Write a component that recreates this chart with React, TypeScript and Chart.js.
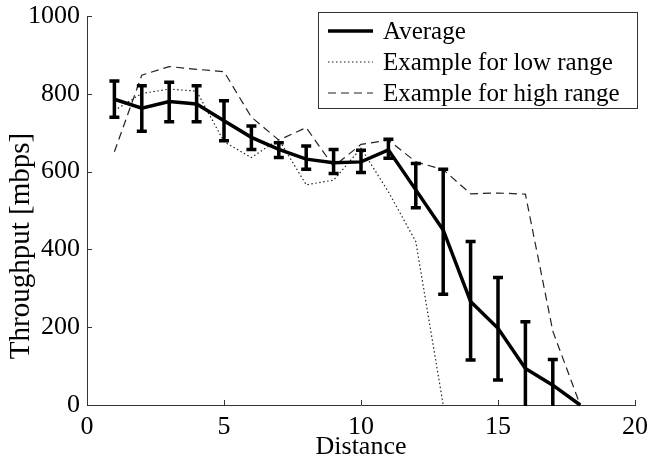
import React, { useEffect, useRef } from "react";
import { Chart, registerables } from "chart.js";

Chart.register(...registerables);

// ---- data ----
const distance = [1, 2, 3, 4, 5, 6, 7, 8, 9, 10, 11, 12, 13, 14, 15, 16, 17, 18];
const averageThroughput = [786, 763, 780, 774, 731, 688, 657, 632, 623, 625, 656, 553, 450, 266, 197, 94, 51, 0];
const errorHigh = [833, 821, 830, 821, 782, 717, 674, 666, 657, 655, 683, 621, 606, 420, 328, 214, 117, null];
const errorLow = [740, 704, 728, 728, 679, 657, 636, 606, 595, 598, 634, 507, 285, 116, 64, -26, -15, null];
const lowRangeDistance = [1, 2, 3, 4, 5, 6, 7, 8, 9, 10, 11, 12, 13];
const lowRangeThroughput = [757, 801, 812, 807, 677, 636, 683, 566, 578, 660, 548, 420, 0];
const highRangeThroughput = [651, 848, 870, 863, 857, 740, 681, 713, 613, 670, 681, 625, 605, 543, 545, 542, 190, 0];
const seriesLabels = ["Average", "Example for low range", "Example for high range"];
const xTicks = [0, 5, 10, 15, 20];
const yTicks = [0, 200, 400, 600, 800, 1000];
const xTitle = "Distance";
const yTitle = "Throughput [mbps]";

const FONT = "'Liberation Serif', 'Times New Roman', serif";
const AXIS_COLOR = "#333";

const toPoints = (xs: number[], ys: (number | null)[]) => xs.map((x, i) => ({ x, y: ys[i] as number }));

const inwardTicks = {
  id: "inwardTicks",
  afterDraw(chart: any) {
    const { ctx, chartArea } = chart;
    const xs = chart.scales.x;
    const ys = chart.scales.y;
    ctx.save();
    ctx.strokeStyle = AXIS_COLOR;
    ctx.lineWidth = 1;
    xs.ticks.forEach((t: any) => {
      const px = Math.round(xs.getPixelForValue(t.value)) + 0.5;
      ctx.beginPath();
      ctx.moveTo(px, chartArea.bottom);
      ctx.lineTo(px, chartArea.bottom - 5);
      ctx.stroke();
    });
    ys.ticks.forEach((t: any) => {
      const py = Math.round(ys.getPixelForValue(t.value)) + 0.5;
      ctx.beginPath();
      ctx.moveTo(chartArea.left, py);
      ctx.lineTo(chartArea.left + 5, py);
      ctx.stroke();
    });
    ctx.restore();
  },
};

const yAxisTitle = {
  id: "yAxisTitle",
  afterDraw(chart: any) {
    const { ctx } = chart;
    ctx.save();
    ctx.translate(21, 246);
    ctx.rotate(-Math.PI / 2);
    ctx.font = `29px ${FONT}`;
    ctx.fillStyle = "#000";
    ctx.textAlign = "center";
    ctx.textBaseline = "middle";
    ctx.fillText(yTitle, 0, 0);
    ctx.restore();
  },
};

const errorBars = {
  id: "errorBars",
  afterDatasetsDraw(chart: any) {
    const { ctx, chartArea } = chart;
    const xs = chart.scales.x;
    const ys = chart.scales.y;
    ctx.save();
    ctx.beginPath();
    ctx.rect(chartArea.left, chartArea.top, chartArea.right - chartArea.left, chartArea.bottom - chartArea.top + 1);
    ctx.clip();
    ctx.strokeStyle = "#000";
    ctx.lineWidth = 3.5;
    ctx.lineCap = "butt";
    distance.forEach((d, i) => {
      const hi = errorHigh[i];
      const lo = errorLow[i];
      if (hi == null || lo == null) return;
      const px = xs.getPixelForValue(d);
      const pt = ys.getPixelForValue(hi);
      const pb = ys.getPixelForValue(lo);
      ctx.beginPath();
      ctx.moveTo(px, pt);
      ctx.lineTo(px, pb);
      ctx.moveTo(px - 5, pt);
      ctx.lineTo(px + 5, pt);
      ctx.moveTo(px - 5, pb);
      ctx.lineTo(px + 5, pb);
      ctx.stroke();
    });
    ctx.restore();
  },
};

const boxLegend = {
  id: "boxLegend",
  afterDraw(chart: any) {
    const { ctx } = chart;
    const left = 318.5, top = 12.5, right = 637.5, bottom = 108.5;
    ctx.save();
    ctx.fillStyle = "#fff";
    ctx.fillRect(left, top, right - left, bottom - top);
    ctx.strokeStyle = AXIS_COLOR;
    ctx.lineWidth = 1;
    ctx.strokeRect(left, top, right - left, bottom - top);
    ctx.font = `25px ${FONT}`;
    ctx.textBaseline = "middle";
    ctx.textAlign = "left";
    chart.data.datasets.forEach((ds: any, i: number) => {
      const cy = 31 + i * 31;
      ctx.save();
      ctx.strokeStyle = ds.borderColor;
      ctx.lineWidth = ds.borderWidth;
      ctx.setLineDash(ds.borderDash || []);
      ctx.beginPath();
      ctx.moveTo(328, cy);
      ctx.lineTo(373, cy);
      ctx.stroke();
      ctx.restore();
      ctx.fillStyle = "#000";
      ctx.fillText(ds.label, 383, cy + 1);
    });
    ctx.restore();
  },
};

export default function App() {
  const ref = useRef<HTMLCanvasElement | null>(null);
  useEffect(() => {
    if (!ref.current) return;
    const chart = new Chart(ref.current, {
      type: "line",
      data: {
        datasets: [
          {
            label: seriesLabels[0],
            data: toPoints(distance, averageThroughput),
            borderColor: "#000",
            borderWidth: 3.5,
            pointRadius: 0,
            tension: 0,
            order: 0,
          },
          {
            label: seriesLabels[1],
            data: toPoints(lowRangeDistance, lowRangeThroughput),
            borderColor: "#222",
            borderWidth: 1.2,
            borderDash: [1.5, 2.5],
            pointRadius: 0,
            tension: 0,
            order: 1,
          },
          {
            label: seriesLabels[2],
            data: toPoints(distance, highRangeThroughput),
            borderColor: "#222",
            borderWidth: 1.2,
            borderDash: [8, 5],
            pointRadius: 0,
            tension: 0,
            order: 2,
          },
        ],
      },
      options: {
        animation: false,
        responsive: false,
        clip: 2,
        layout: { padding: { top: 16, right: 14, left: 0, bottom: 0 } },
        plugins: { legend: { display: false }, tooltip: { enabled: false } },
        scales: {
          x: {
            type: "linear",
            min: 0,
            max: 20,
            afterBuildTicks: (s: any) => { s.ticks = xTicks.map((v) => ({ value: v })); },
            afterFit: (s: any) => { s.height = 57; s.paddingLeft = 0; s.paddingRight = 0; },
            grid: { display: false, drawTicks: false },
            border: { display: true, color: AXIS_COLOR, width: 1 },
            ticks: { color: "#000", font: { family: FONT, size: 26 }, padding: 7, maxRotation: 0, callback: (v: any) => String(v) },
            title: { display: true, text: xTitle, color: "#000", font: { family: FONT, size: 26 }, padding: { top: 0, bottom: -1 } },
          },
          y: {
            type: "linear",
            min: 0,
            max: 1000,
            afterBuildTicks: (s: any) => { s.ticks = yTicks.map((v) => ({ value: v })); },
            afterFit: (s: any) => { s.width = 87; s.paddingTop = 0; s.paddingBottom = 0; },
            grid: { display: false, drawTicks: false },
            border: { display: true, color: AXIS_COLOR, width: 1 },
            ticks: { color: "#000", font: { family: FONT, size: 26 }, padding: 7, callback: (v: any) => String(v) },
            title: { display: false },
          },
        },
      },
      plugins: [errorBars, inwardTicks, yAxisTitle, boxLegend],
    } as any);
    return () => chart.destroy();
  }, []);
  return (
    <div style={{ position: "fixed", left: 0, top: 0, width: 649, height: 462, background: "#fff" }}>
      <canvas ref={ref} width={649} height={462} style={{ display: "block", width: 649, height: 462 }} />
    </div>
  );
}
